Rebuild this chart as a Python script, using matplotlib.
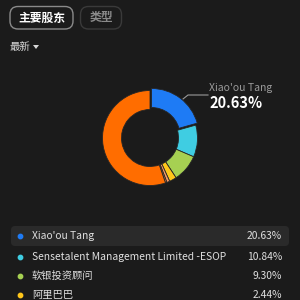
import matplotlib
matplotlib.use("Agg")
import matplotlib.pyplot as plt
from matplotlib.patches import FancyBboxPatch, Polygon

plt.rcParams['font.family'] = ['Noto Sans CJK SC', 'DejaVu Sans']

# data
holders = ["Xiao'ou Tang", "Sensetalent Management Limited -ESOP", "软银投资顾问", "阿里巴巴",
           "其他1", "其他2", "其他"]
shares = [20.63, 10.84, 9.30, 2.44, 1.0, 0.5, 55.29]
colors = ['#1E7BF5', '#3FCDE2', '#A6D052', '#FFC61A', '#F59A66', '#F08A50', '#FF6D00']
list_labels = holders[:4]
list_values = ["20.63%", "10.84%", "9.30%", "2.44%"]
tabs = ["主要股东", "类型"]

bg = '#1b1b1b'
fig = plt.figure(figsize=(3, 3), dpi=100, facecolor=bg)

# overlay in pixel coords
ax = fig.add_axes([0, 0, 1, 1])
ax.set_xlim(0, 300)
ax.set_ylim(300, 0)
ax.axis('off')
ax.set_facecolor(bg)

# tabs
ax.add_patch(FancyBboxPatch((10, 6.5), 63, 22.5, boxstyle="round,pad=0,rounding_size=8",
                            fc='none', ec='#8a8a8a', lw=1))
ax.text(41.5, 18, tabs[0], color='white', fontsize=8.5, fontweight='bold', ha='center', va='center')
ax.add_patch(FancyBboxPatch((80.5, 6.5), 41, 22.5, boxstyle="round,pad=0,rounding_size=8",
                            fc='none', ec='#3a3a3a', lw=1))
ax.text(101, 18, tabs[1], color='#8a8a8a', fontsize=8.5, fontweight='bold', ha='center', va='center')

ax.text(10, 47, "最新", color='#d8d8d8', fontsize=7.5, va='center')
ax.add_patch(Polygon([(33, 45), (39, 45), (36, 49)], closed=True, fc='#d8d8d8', ec='none'))

# callout
ax.plot([183, 188, 208], [99, 95, 95], color='#9a9a9a', lw=0.8)
ax.text(209, 88, holders[0], color='#9a9a9a', fontsize=7.5, va='center')
ax.text(209, 103, list_values[0], color='white', fontsize=10.5, fontweight='bold', va='center')

# legend list
ax.add_patch(FancyBboxPatch((11, 226), 278, 20, boxstyle="round,pad=0,rounding_size=4",
                            fc='#2a2a2a', ec='none'))
rows_y = [236, 257, 276, 295]
for i in range(4):
    y = rows_y[i]
    ax.scatter([20], [y], s=10, color=colors[i], zorder=5)
    ax.text(32, y, list_labels[i], color='#e0e0e0', fontsize=7.4, va='center')
    ax.text(282, y, list_values[i], color='#e0e0e0', fontsize=7.4, va='center', ha='right')

# donut
pax = fig.add_axes([100 / 300, (300 - 188) / 300, 100 / 300, 100 / 300])
explode = [0.05] + [0] * (len(shares) - 1)
pax.pie(shares, colors=colors, startangle=90, counterclock=False, explode=explode,
        radius=0.95, wedgeprops=dict(width=0.38, edgecolor='#262626', linewidth=0.6))
pax.set_xlim(-1, 1)
pax.set_ylim(-1, 1)
pax.set_aspect('equal')
pax.axis('off')

fig.savefig('out.png', dpi=100, facecolor=bg)
